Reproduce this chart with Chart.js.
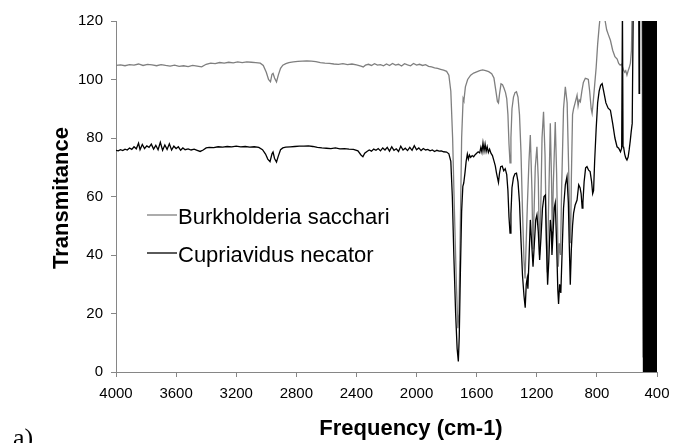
<!DOCTYPE html>
<html lang="en">
  <head>
    <meta charset="UTF-8" />
    <title>FTIR spectra</title>
    <style>
      * {
        margin: 0;
        padding: 0;
      }
      body {
        background: #fff;
      }
    </style>
  </head>
  <body>
    <canvas id="myChart" width="673" height="443"></canvas>

    <script src="https://cdn.jsdelivr.net/npm/chart.js"></script>

    <script>
      // data block
      const seriesNames = ["Burkholderia sacchari", "Cupriavidus necator"];
      const xTicks = [4000, 3600, 3200, 2800, 2400, 2000, 1600, 1200, 800, 400];
      const yTicks = [0, 20, 40, 60, 80, 100, 120];

      const burkWave = [
        4000, 3970, 3940, 3910, 3880, 3850, 3820, 3790, 3760, 3730, 3700, 3670,
        3640, 3610, 3580, 3550, 3520, 3490, 3460, 3430, 3400, 3370, 3340, 3310,
        3280, 3250, 3220, 3190, 3160, 3130, 3100, 3070, 3040, 3020, 3000, 2985,
        2972, 2962, 2955, 2945, 2932, 2920, 2905, 2890, 2870, 2850, 2820, 2790,
        2760, 2730, 2700, 2670, 2640, 2610, 2580, 2550, 2520, 2490, 2460, 2430,
        2400, 2370, 2355, 2340, 2320, 2300, 2280, 2260, 2240, 2220, 2200, 2180,
        2160, 2140, 2120, 2100, 2080, 2060, 2040, 2020, 2000, 1980, 1960, 1940,
        1920, 1900, 1880, 1860, 1840, 1820, 1800, 1785, 1772, 1760, 1748, 1735,
        1725, 1718, 1710, 1700, 1690, 1685, 1675, 1660, 1640, 1620, 1600, 1580,
        1560, 1540, 1520, 1500, 1485, 1472, 1462, 1455, 1448, 1438, 1428, 1418,
        1408, 1400, 1392, 1385, 1378, 1372, 1365, 1355, 1345, 1335, 1325, 1315,
        1305, 1295, 1285, 1278, 1270, 1262, 1252, 1243, 1232, 1226, 1218, 1210,
        1199, 1190, 1182, 1174, 1165, 1155, 1145, 1135, 1130, 1122, 1110, 1102,
        1097, 1090, 1077, 1068, 1057, 1050, 1042, 1035, 1022, 1010, 998, 988,
        980, 975, 970, 962, 955, 945, 932, 925, 918, 910, 900, 890, 877, 865,
        857, 848, 838, 832, 825, 815, 805, 795, 785, 775, 765, 755, 745, 735,
        725, 710, 695, 680, 665, 655, 645, 635, 625, 615, 608, 600, 592, 585,
        577, 570, 565, 540, 500, 492, 486, 480, 474, 468, 462, 456, 450, 444,
        438, 432, 426, 420, 414, 408, 404, 400
      ];
      const burkT = [
        104.8, 105.0, 104.7, 105.1, 104.9, 105.3, 104.8, 105.2, 105.0, 104.7,
        105.1, 104.8, 104.6, 104.9, 104.5, 104.7, 104.4, 104.8, 104.6, 104.3,
        105.2, 105.6, 105.4, 105.8, 105.6, 105.9, 105.7, 106.0, 105.8, 106.0,
        105.9, 105.8, 105.6, 104.8, 102.5, 100.0, 99.2, 101.8, 102.1, 100.5,
        99.2, 101.5, 103.8, 104.9, 105.4, 105.8, 106.0, 106.2, 106.3, 106.4,
        106.3, 106.1, 105.8, 105.6, 105.5, 105.3, 105.2, 105.4, 105.1, 105.3,
        105.0, 104.6, 104.3, 104.9, 105.2, 104.8, 105.4, 104.9, 105.1, 104.7,
        105.3, 104.8, 105.5, 104.9, 105.2, 104.6, 105.4, 105.0, 104.7, 105.5,
        104.9, 105.2, 104.8, 105.1, 104.5, 104.3, 104.0, 103.8, 103.5, 103.2,
        102.8, 101.5, 96, 80, 55, 30, 15, 20, 45, 80, 93.5, 92.8, 97.5, 100,
        101.5, 102.2, 102.6, 103.0, 103.3, 103.0, 102.7, 102.0, 100.5, 96,
        92.5, 92.0, 95, 98.5, 98.2, 97, 95.5, 93.5, 88, 78, 71.5, 80, 90, 94,
        95.5, 95.8, 94, 88, 75, 55, 38, 32, 45, 58, 72, 81, 62, 42, 55, 70,
        77, 66, 40, 55, 80, 89, 74, 42, 34, 55, 85, 66, 46, 64, 85.5, 68, 36,
        44, 40, 62, 90, 97.5, 92, 70, 47, 44, 66, 88, 90, 92, 94.6, 91, 93,
        92.4, 96, 99, 100.4, 100.2, 100, 96, 90, 88.5, 92, 98, 104, 112, 118,
        123, 126, 124, 120, 117, 115.5, 113.4, 110, 107.8, 107, 105.5, 104.9,
        105.2, 103.5, 102.5, 103, 101.5, 103, 104, 105.6, 110, 125, 130, 130,
        5, 130, 0, 128, 2, 126, 0, 130, 1, 125, 3, 130, 0, 128, 8, 82, 10
      ];

      const cupWave = [
        4000, 3985, 3970, 3955, 3940, 3925, 3910, 3895, 3880, 3865, 3850, 3840,
        3825, 3810, 3795, 3780, 3765, 3750, 3735, 3720, 3705, 3690, 3675, 3660,
        3645, 3630, 3615, 3600, 3585, 3570, 3555, 3540, 3520, 3500, 3480, 3460,
        3440, 3420, 3400, 3380, 3350, 3320, 3290, 3260, 3230, 3200, 3170, 3140,
        3110, 3080, 3050, 3025, 3005, 2990, 2975, 2962, 2955, 2945, 2932, 2920,
        2905, 2890, 2870, 2840, 2810, 2780, 2750, 2720, 2690, 2660, 2630, 2600,
        2570, 2540, 2510, 2480, 2450, 2420, 2390, 2370, 2357, 2345, 2330, 2315,
        2300, 2285, 2270, 2255, 2240, 2225, 2210, 2195, 2180, 2165, 2150, 2135,
        2120, 2105, 2090, 2075, 2060, 2045, 2030, 2015, 2000, 1985, 1970, 1955,
        1940, 1925, 1910, 1895, 1880, 1865, 1850, 1835, 1820, 1800, 1785, 1772,
        1762, 1752, 1740, 1730, 1722, 1716, 1708, 1700, 1692, 1686, 1678, 1670,
        1662, 1655, 1648, 1640, 1630, 1620, 1610, 1600, 1590, 1580, 1572, 1565,
        1558, 1551, 1544, 1537, 1530, 1522, 1514, 1505, 1495, 1485, 1476, 1468,
        1460, 1455, 1448, 1440, 1430, 1420, 1410, 1400, 1392, 1385, 1378, 1372,
        1365, 1355, 1345, 1335, 1325, 1315, 1305, 1295, 1285, 1277, 1270, 1264,
        1259, 1252, 1243, 1235, 1225, 1216, 1207, 1199, 1190, 1181, 1172, 1162,
        1152, 1143, 1136, 1128, 1120, 1110, 1103, 1099, 1092, 1084, 1077, 1068,
        1060, 1055, 1048, 1040, 1032, 1022, 1010, 999, 990, 984, 977, 970, 962,
        955, 945, 932, 921, 912, 905, 898, 893, 885, 875, 866, 855, 845, 835,
        828, 822, 815, 805, 795, 785, 775, 765, 755, 740, 725, 710, 695, 680,
        666, 655, 643, 635, 630, 626, 622, 615, 608, 600, 592, 585, 578, 572,
        565, 558, 530, 522, 519, 516, 495, 490, 486, 482, 478, 474, 470, 466,
        462, 458, 454, 450, 446, 442, 438, 434, 430, 426, 422, 418, 414, 410,
        406, 402, 400
      ];
      const cupT = [
        75.8, 75.6, 76.0, 75.7, 76.2, 75.9, 76.6, 76.1, 77.0, 76.3, 78.2, 76.0,
        77.8, 76.4, 77.3, 76.8, 77.9, 76.2, 77.5, 76.0, 78.5, 75.8, 77.6, 76.1,
        78.0, 75.9, 77.2, 76.4, 77.0, 75.8, 76.6, 76.0, 76.3, 75.9, 76.2, 75.8,
        75.4, 75.9, 76.6, 76.8, 76.7, 77.0, 76.9, 77.1, 77.0, 77.2, 77.0, 77.1,
        76.9, 77.0, 76.8, 76.0, 74.5, 72.8, 71.9, 74.6, 75.2, 73.0, 71.8, 73.8,
        76.0, 76.6, 76.9, 77.0, 77.1, 77.2, 77.2, 77.3, 77.1, 76.8, 76.6, 76.5,
        76.4, 76.6, 76.3, 76.4, 76.2, 76.1, 75.6, 74.2, 73.6, 74.8, 75.4, 75.9,
        75.5, 76.2, 75.8, 76.4, 75.6, 76.6, 75.9, 76.8, 75.5, 77.0, 75.8, 76.3,
        75.4, 77.2, 75.9, 76.5, 75.7, 76.8, 75.8, 77.4, 76.0, 76.6, 75.7, 76.4,
        75.9, 76.1, 75.6, 75.9, 75.4, 75.8, 75.5, 75.6, 75.3, 75.2, 74.6, 72,
        60, 40, 20, 8, 3.6, 12, 35, 55, 63.5, 64.6, 68, 72,
        74.5, 72.8, 74.2, 73.4, 74.0, 73.6, 74.3, 74.8, 75.3, 74.9, 76.8, 75.2,
        78.3, 75.6, 77.9, 75.4, 77.0, 75.1, 76.2, 74.8, 74.0, 72.2, 70.5, 68,
        66, 64.8, 68, 70.2, 70.4, 68.8, 69.5, 67.5, 62, 53, 47.5, 54,
        63, 66.5, 67.8, 68, 65, 58, 45, 33, 26, 22, 30, 32,
        28.5, 38, 52, 45, 36, 44, 52, 53.7, 48, 38.3, 46, 56,
        60, 60.5, 45, 29.8, 38, 52, 48, 40, 47, 56, 57.8, 44,
        28, 23.3, 30, 27, 40, 56, 64, 66.8, 58, 44, 29.8, 42, 50,
        54.3, 57, 58.8, 64, 63, 61, 56, 58, 65, 69.8, 70.2, 69, 68.5, 65,
        61, 62, 72, 83, 92, 96, 98, 98.6, 96, 92, 90.2, 89.5, 85, 80,
        77, 76.5, 75.3, 76.5, 125, 77, 76.8, 74.5, 73.2, 72.5, 73.5, 76, 79, 82,
        85, 125, 130, 130, 95.3, 130, 130, 0, 130, 0, 130, 0, 130, 0,
        130, 0, 130, 0, 130, 0, 130, 0, 130, 0, 130, 0, 130, 0,
        130, 0, 60
      ];

      const toPoints = (xs, ys) => xs.map((x, i) => ({ x: x, y: ys[i] }));

      const data = {
        datasets: [
          {
            label: seriesNames[0],
            data: toPoints(burkWave, burkT),
            borderColor: "#7f7f7f",
            borderWidth: 1.3,
            pointRadius: 0,
            tension: 0,
            order: 1
          },
          {
            label: seriesNames[1],
            data: toPoints(cupWave, cupT),
            borderColor: "#000000",
            borderWidth: 1.3,
            pointRadius: 0,
            tension: 0,
            order: 0
          }
        ]
      };

      // legend, axis titles and panel label drawn by hand
      const extras = {
        id: "extras",
        afterDraw(chart) {
          const ctx = chart.ctx;
          ctx.save();

          // legend inside the plot
          const rows = [216, 254];
          chart.data.datasets.forEach((ds, i) => {
            ctx.strokeStyle = ds.borderColor;
            ctx.lineWidth = 1.3;
            ctx.beginPath();
            ctx.moveTo(147, rows[i] - 1);
            ctx.lineTo(177, rows[i] - 1);
            ctx.stroke();
            ctx.fillStyle = "#000";
            ctx.font = "22px 'Liberation Sans', Arial, sans-serif";
            ctx.textBaseline = "alphabetic";
            ctx.textAlign = "left";
            ctx.fillText(ds.label, 178, rows[i] + 7.5);
          });

          // axis titles
          ctx.fillStyle = "#000";
          ctx.font = "bold 22px 'Liberation Sans', Arial, sans-serif";
          ctx.textAlign = "center";
          ctx.fillText("Frequency (cm-1)", 411, 435);

          ctx.translate(68, 198);
          ctx.rotate(-Math.PI / 2);
          ctx.fillText("Transmitance", 0, 0);
          ctx.setTransform(1, 0, 0, 1, 0, 0);

          // panel label, partly cut by the bottom edge
          ctx.font = "26px 'Liberation Serif', 'Times New Roman', serif";
          ctx.textAlign = "left";
          ctx.fillText("a)", 13, 446);

          ctx.restore();
        }
      };

      const plainTick = (value) => String(value);

      // config block
      const config = {
        type: "line",
        data,
        options: {
          responsive: false,
          animation: false,
          layout: {
            padding: { top: 21, right: 16, bottom: 0, left: 0 }
          },
          plugins: {
            legend: { display: false },
            tooltip: { enabled: false }
          },
          scales: {
            x: {
              type: "linear",
              reverse: true,
              min: 400,
              max: 4000,
              afterBuildTicks: (scale) => {
                scale.ticks = xTicks.map((v) => ({ value: v }));
              },
              afterFit: (scale) => {
                scale.height = 71;
                scale.paddingLeft = 0;
                scale.paddingRight = 0;
              },
              border: { color: "#868686", width: 1 },
              grid: {
                drawOnChartArea: false,
                color: "#868686",
                tickLength: 5
              },
              ticks: {
                color: "#000",
                padding: 8,
                maxRotation: 0,
                callback: plainTick,
                font: { family: "'Liberation Sans', Arial", size: 15 }
              }
            },
            y: {
              min: 0,
              max: 120,
              afterBuildTicks: (scale) => {
                scale.ticks = yTicks.map((v) => ({ value: v }));
              },
              afterFit: (scale) => {
                scale.width = 116;
              },
              border: { color: "#868686", width: 1 },
              grid: {
                drawOnChartArea: false,
                color: "#868686",
                tickLength: 5
              },
              ticks: {
                color: "#000",
                padding: 8,
                callback: plainTick,
                font: { family: "'Liberation Sans', Arial", size: 15 }
              }
            }
          }
        },
        plugins: [extras]
      };

      // init render block
      const ctx = document.getElementById("myChart");
      const myChart = new Chart(ctx, config);
    </script>
  </body>
</html>
